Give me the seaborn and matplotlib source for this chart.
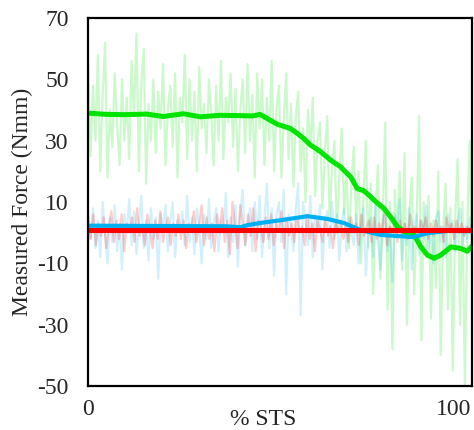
"""Measured force across the sit-to-stand cycle."""

import matplotlib

matplotlib.use("Agg")

import matplotlib.pyplot as plt
import numpy as np
import pandas as pd
import seaborn as sns

green_raw = [
    55, 25, 48, 30, 58, 20, 45, 62, 18, 40, 28, 52, 35, 22, 50, 30, 44, 24, 56, 38,
    65, 20, 48, 60, 16, 42, 30, 50, 26, 46, 34, 55, 22, 40, 48, 28, 52, 18, 44, 36,
    58, 24, 50, 30, 46, 20, 54, 34, 42, 26, 50, 38, 22, 48, 30, 56, 24, 44, 36, 52,
    28, 47, 20, 40, 50, 26, 55, 30, 45, 18, 52, 34,
    50, 22, 44, 30, 56, 20, 40, 48, 18, 36, 52, 24, 42, 15, 38, 46, 20, 34, 10, 40,
    28, 44, 12, 30, 36, 8, 26, 38, 4, 22, 30, 0, 18, 34, 6, 20, -5, 16,
    28, 2, 20, -10, 12, 30, -5, 16, -20, 8, 22, -15, 4, 36, -25, 10, -38, 14, 0, 20,
    -12, 26, -30, 6, 18, -20, 2, 38, -35, 10, -8, 12, -28, 4, -18, 20, -40, 0, 16, -25,
    8, -45, 5, 24, -30, 10, -50, 2, 30, -20,
]
blue_raw = [
    6, -2, 8, -5, 4, -8, 10, 0, -10, 5, -3, 9, -6, 3, -12, 6, 0, 11, -4, 7,
    -7, 2, 12, -5, 4, -9, 8, -2, 5, -15, 6, 1, 9, -6, 3, 10, -8, 4, 0, 7,
    -4, 12, -3, 5, -7, 8, 2, -10, 6, -2, 11, -5, 3, 8, -6, 4, 0, 13, -8, 5,
    -3, 9, -11, 6, 14, -4, 2, 8, -6, 10,
    -2, 12, -8, 4, 16, -5, 8, -14, 6, 10, -3, 14, -20, 6, 2, -6, 8, 16, -27, 10,
    4, -4, 12, -8, 6, 0, 9, -12, 4, 7, -5, 10, -2, 6, -9, 3, 8, -6, 5, 0,
    -4, 6, -10, 2, 8, -14, 0, 5, -8, 10, -3, -12, 4, 9, -6, 2, -16, 6, 0, 11,
    -9, 3, -4, 8, -12, 2, 6, -7, 4, -2, 9, -5, 1, -10, 5, 7, -3, 2, -8, 6,
    0, 4, -6, 3, 8, -4, 2, -2, 5, 1,
]
red_raw = [
    4, -2, 6, -4, 3, -1, 5, -5, 2, 7, -3, 4, -2, 6, -6, 3, 0, 5, -3, 8,
    -1, 2, -4, 6, 1, -5, 4, -2, 7, -3, 2, 5, -4, 3, -1, 6, -2, 4, -5, 3,
    1, 7, -3, 2, 9, -4, 5, -2, 3, -6, 6, 0, 8, -3, 4, -7, 10, 2, -5, 9,
    3, -4, 6, -1, 8, -6, 4, 2, -3, 5, -2, 6, -4, 3, 1, 7, -5, 4, -1, 3,
    -3, 5, 0, 2, -4, 6, -2, 3, -6, 4, 1, -3, 5, -1, 2, -5, 3, 0, 4, -2,
    2, -3, 5, 0, 3, -4, 6, -1, 2, 4, -3, 5, -2, 3, 0, 6, -4, 2, 1, 5,
    -3, 4, -1, 3, -2, 6, 0, 2, -3, 4, 1, 5, -2, 3, -1, 4, 0, 2, -3, 5,
    1, 3, -2, 4, 0, 3, -1, 2, 1, 3,
]

# filtered (mean) traces
green_x = [0, 5, 10, 16, 20.5, 26, 30.7, 36, 41, 45, 47, 49.9, 51.7, 54, 55.3, 57.2,
           59, 60.8, 63.6, 66.3, 69, 71.8, 73.6, 75.4, 77.3, 78.2, 80.9, 82.7, 84.6,
           86.4, 89.1, 91, 92.8, 94.6, 96.4, 99.2, 101.9, 103.7, 105]
green_y = [39, 38.6, 38.5, 38.7, 37.9, 38.8, 37.8, 38.3, 38.2, 38.1, 38.6, 36.6, 35.4,
           34.5, 34, 32.4, 30.7, 28.6, 26.4, 23.7, 21.5, 18.2, 14.4, 13.7, 11.7, 10.6,
           7.9, 5.2, 2, 0.3, -0.7, -4.6, -7.3, -8.3, -7.3, -4.6, -5.1, -6, -4.3]
blue_x = [0, 20, 38, 41.6, 43.6, 47.1, 52.6, 60, 65.5, 69.9, 74.5, 80, 89, 92.9, 98.4, 105]
blue_y = [2.3, 2.2, 2.1, 1.8, 2.5, 3.2, 4.1, 5.4, 4.5, 3.2, 0.9, -0.7, -1.4, -0.1, 0.6, 0.5]
red_x = [0, 105]
red_y = [0.9, 0.9]

y_ticks = [-50, -30, -10, 10, 30, 50, 70]
x_ticks = [0, 100]

GREEN = "#00e400"
BLUE = "#00b0f0"
RED = "#ff0000"


def raw_frame(values):
    return pd.DataFrame({"x": np.linspace(0, 105, len(values)), "y": values})


sns.set_style("white")
plt.rcParams["font.family"] = ["Liberation Serif", "DejaVu Serif"]
plt.rcParams["axes.unicode_minus"] = False

fig = plt.figure(figsize=(4.74, 4.30), dpi=100)
ax = fig.add_axes([0.186, 0.102, 0.81, 0.856])

sns.lineplot(data=raw_frame(green_raw), x="x", y="y", color=GREEN, alpha=0.2,
             linewidth=1.6, ax=ax)
sns.lineplot(data=raw_frame(blue_raw), x="x", y="y", color=BLUE, alpha=0.18,
             linewidth=1.6, ax=ax)
sns.lineplot(data=raw_frame(red_raw), x="x", y="y", color=RED, alpha=0.2,
             linewidth=1.6, ax=ax)

sns.lineplot(x=green_x, y=green_y, color=GREEN, linewidth=3.6, ax=ax)
sns.lineplot(x=blue_x, y=blue_y, color=BLUE, linewidth=3.0, ax=ax)
sns.lineplot(x=red_x, y=red_y, color=RED, linewidth=3.6, ax=ax)

ax.set_xlim(0, 105)
ax.set_ylim(-50, 70)
ax.set_xticks(x_ticks)
ax.set_yticks(y_ticks)
ax.tick_params(length=0, labelsize=17)
ax.tick_params(axis="y", pad=14)
ax.tick_params(axis="x", pad=9)

for spine in ax.spines.values():
    spine.set_visible(True)
    spine.set_color("black")
    spine.set_linewidth(1.6)

ax.set_xlabel("% STS", fontsize=17)
ax.xaxis.set_label_coords(0.456, -0.09)
ax.xaxis.label.set_va("center")
ax.set_ylabel("Measured Force (Nmm)", fontsize=17)
ax.yaxis.set_label_coords(-0.172, 0.5)
ax.yaxis.label.set_va("center")

fig.savefig("out.png", dpi=100)
